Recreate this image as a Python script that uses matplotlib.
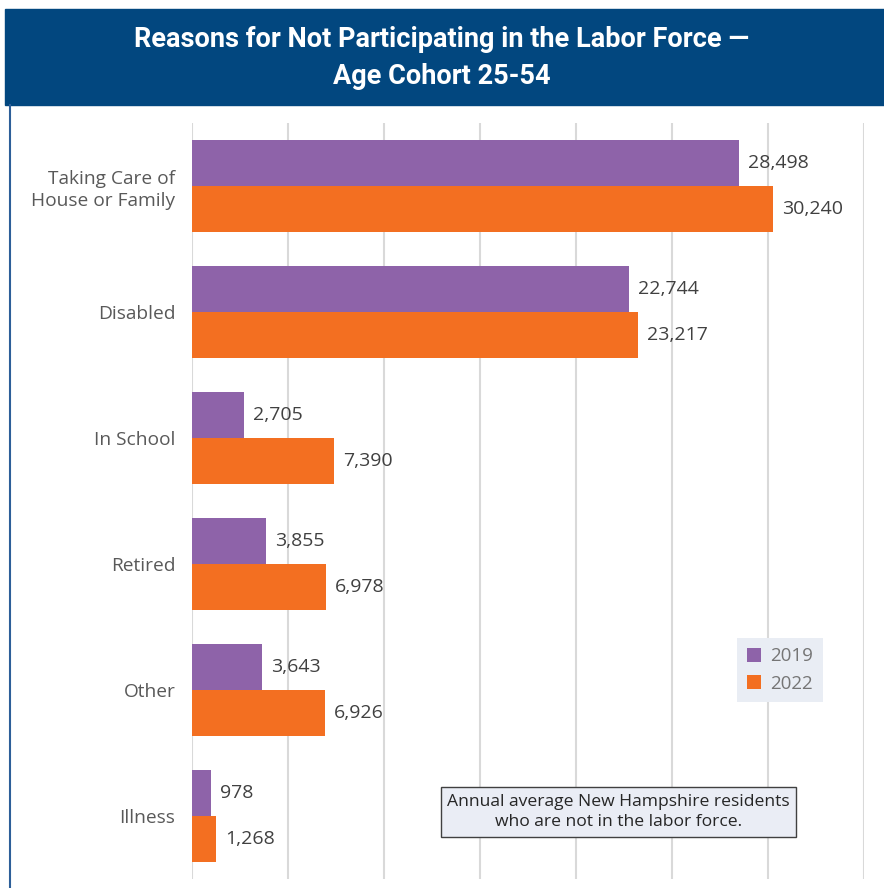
import numpy as np
import matplotlib.pyplot as plt
from matplotlib.patches import Rectangle
from matplotlib.lines import Line2D

categories = ["Taking Care of\nHouse or Family", "Disabled", "In School",
              "Retired", "Other", "Illness"]
values_2019 = [28498, 22744, 2705, 3855, 3643, 978]
values_2022 = [30240, 23217, 7390, 6978, 6926, 1268]
years = ["2019", "2022"]

PURPLE = "#8e63a9"
ORANGE = "#f36f21"
NAVY = "#02477f"

def main():
    plt.rcParams['font.family'] = ['Open Sans', 'DejaVu Sans']
    W, H = 884, 888
    fig = plt.figure(figsize=(W / 100, H / 100), dpi=100)

    # title banner + left border line
    fig.patches.append(Rectangle((5 / W, 1 - 105 / H), 1, 96 / H,
                                 transform=fig.transFigure, color=NAVY, zorder=0))
    fig.add_artist(Line2D([10 / W, 10 / W], [0, 1 - 105 / H],
                          transform=fig.transFigure, color="#2d5f99", lw=1.5))
    fig.text(0.5, 1 - 58 / H,
             "Reasons for Not Participating in the Labor Force \u2014\nAge Cohort 25-54",
             ha="center", va="center", color="white", fontsize=19.5,
             fontweight="bold", family=['Roboto', 'DejaVu Sans'], linespacing=1.45)

    ax = fig.add_axes([192 / W, 9 / H, 672 / W, 756 / H])
    y = np.arange(len(categories))
    h = 0.365
    b1 = ax.barh(y - h / 2, values_2019, height=h, color=PURPLE, label=years[0], zorder=2)
    b2 = ax.barh(y + h / 2, values_2022, height=h, color=ORANGE, label=years[1], zorder=2)

    for bars in (b1, b2):
        for rect in bars:
            w = rect.get_width()
            ax.annotate(f"{w:,.0f}", (w, rect.get_y() + rect.get_height() / 2),
                        xytext=(6.5, 0), textcoords="offset points",
                        ha="left", va="center", fontsize=14, color="#404040")

    ax.set_xlim(0, 35000)
    ax.set_ylim(len(categories) - 0.5, -0.5)
    ax.set_xticks(np.arange(0, 35001, 5000))
    ax.set_xticklabels([])
    ax.set_yticks(y)
    ax.set_yticklabels(categories, fontsize=13.8, color="#595959", linespacing=1.25)
    ax.tick_params(length=0, pad=12)
    ax.grid(axis="x", color="#d9d9d9", lw=1.5, zorder=0)
    for s in ax.spines.values():
        s.set_visible(False)

    leg = ax.legend(loc="center", bbox_to_anchor=(0.875, 0.2765), frameon=True,
                    fancybox=False, fontsize=13.5, handlelength=0.75, handleheight=0.75,
                    handletextpad=0.5, borderpad=0.5, labelspacing=0.5)
    leg.get_frame().set_facecolor("#e9edf4")
    leg.get_frame().set_edgecolor("none")
    leg.get_frame().set_alpha(1)
    for t in leg.get_texts():
        t.set_color("#757575")

    ax.text(0.6347, 0.0886,
            "Annual average New Hampshire residents\nwho are not in the labor force.",
            transform=ax.transAxes, ha="center", va="center", fontsize=12.6,
            color="#262626", linespacing=1.4, zorder=5,
            bbox=dict(boxstyle="square,pad=0.35", facecolor="#eaedf5",
                      edgecolor="#404040", lw=1))

    fig.savefig("out.png", dpi=100)

if __name__ == "__main__":
    main()
